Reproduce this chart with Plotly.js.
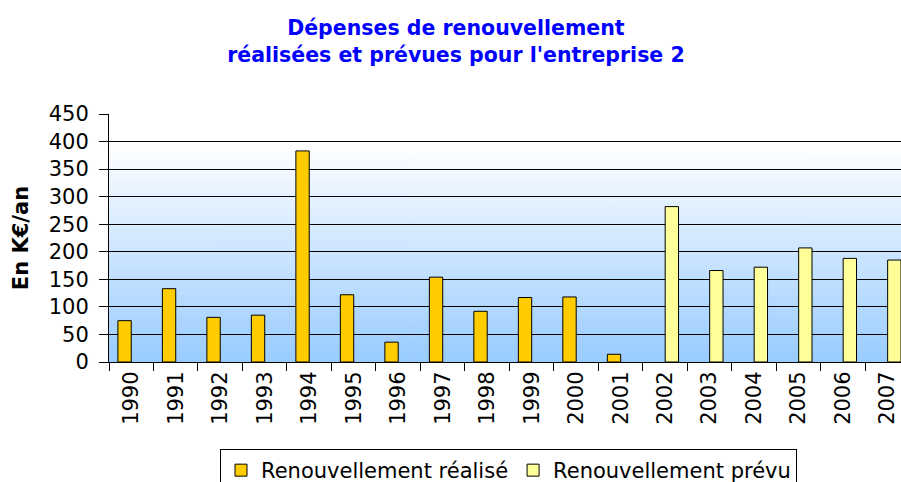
<!DOCTYPE html>
<html>
<head>
<meta charset="utf-8">
<script src="https://cdn.plot.ly/plotly-3.0.1.min.js"></script>
<style>
  html, body { margin: 0; padding: 0; background: #ffffff; }
  #chart { width: 901px; height: 482px; }
</style>
</head>
<body>
<div id="chart"></div>
<script>
// ---- Data ----
const years = ["1990","1991","1992","1993","1994","1995","1996","1997","1998",
               "1999","2000","2001","2002","2003","2004","2005","2006","2007"];
const realise = [75, 133, 81, 85, 383, 122, 36, 154, 92, 117, 118, 14,
                 null, null, null, null, null, null];
const prevu   = [null, null, null, null, null, null, null, null, null, null, null, null,
                 282, 166, 172, 207, 188, 185];
const seriesNames = ["Renouvellement réalisé", "Renouvellement prévu"];
const yTicks = [0, 50, 100, 150, 200, 250, 300, 350, 400, 450];

// ---- Background gradient (plot area) ----
function gradientURL() {
  const c = document.createElement('canvas');
  c.width = 4; c.height = 256;
  const g = c.getContext('2d');
  const lg = g.createLinearGradient(0, 0, 0, 256);
  lg.addColorStop(0, '#ffffff');
  lg.addColorStop(0.12, '#ffffff');
  lg.addColorStop(1, '#99ccff');
  g.fillStyle = lg;
  g.fillRect(0, 0, 4, 256);
  return c.toDataURL('image/png');
}

const FONT = '"DejaVu Sans", "Liberation Sans", Arial, sans-serif';

const traces = [
  {
    type: 'bar', name: seriesNames[0], x: years, y: realise,
    marker: { color: '#ffcc00', line: { color: '#000000', width: 1 } }
  },
  {
    type: 'bar', name: seriesNames[1], x: years, y: prevu,
    marker: { color: '#ffff99', line: { color: '#000000', width: 1 } }
  }
];

const layout = {
  width: 901, height: 482,
  margin: { l: 109, r: 0, t: 114, b: 120, pad: 0, autoexpand: false },
  paper_bgcolor: '#ffffff',
  plot_bgcolor: 'rgba(0,0,0,0)',
  font: { family: FONT, size: 21, color: '#000000' },
  title: {
    text: 'Dépenses de renouvellement<br>réalisées et prévues pour l\'entreprise 2',
    font: { family: FONT, size: 20.5, color: '#0000ff', weight: 'bold' },
    xref: 'container', x: 0.506, xanchor: 'center',
    yref: 'container', y: 1 - 26 / 482, yanchor: 'top', pad: { t: 9 }
  },
  barmode: 'group',
  bargap: 0.4,
  bargroupgap: 0,
  showlegend: true,
  xaxis: {
    type: 'category',
    range: [-0.5, 17.3],
    tickangle: -90,
    ticks: 'outside', ticklen: 8, tickcolor: '#000000', tickwidth: 1,
    tickson: 'boundaries',
    showline: true, linecolor: '#000000', linewidth: 1,
    showgrid: false,
    tickfont: { family: FONT, size: 21, color: '#000000' },
    fixedrange: true
  },
  yaxis: {
    range: [0, 450],
    tickvals: yTicks,
    ticks: 'outside', ticklen: 9, tickcolor: '#000000', tickwidth: 1,
    ticklabelstandoff: 6,
    showline: true, linecolor: '#000000', linewidth: 1,
    showgrid: true, gridcolor: '#000000', gridwidth: 1,
    zeroline: false,
    tickfont: { family: FONT, size: 21, color: '#000000' },
    title: { text: 'En K€/an', font: { family: FONT, size: 21, color: '#000000', weight: 'bold' }, standoff: 14 },
    fixedrange: true
  },
  legend: {
    orientation: 'h',
    xref: 'container', x: 220 / 901, xanchor: 'left',
    yref: 'container', y: 33 / 482, yanchor: 'top',
    bordercolor: '#000000', borderwidth: 1,
    bgcolor: '#ffffff',
    font: { family: FONT, size: 21, color: '#000000' },
    traceorder: 'normal'
  },
  images: [{
    source: gradientURL(),
    xref: 'x domain', yref: 'y domain',
    x: 0, y: 1, sizex: 1, sizey: 1,
    xanchor: 'left', yanchor: 'top',
    sizing: 'stretch', layer: 'below'
  }]
};

Plotly.newPlot('chart', traces, layout, { displayModeBar: false, staticPlot: true });
</script>
</body>
</html>
